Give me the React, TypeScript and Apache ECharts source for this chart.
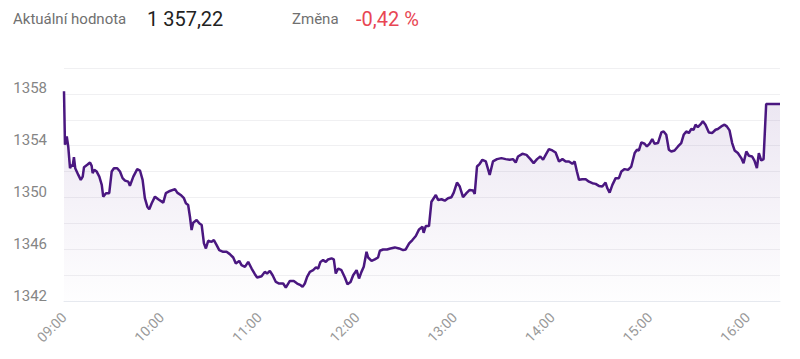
import React, { useEffect, useRef } from "react";
import * as echarts from "echarts";

// minutes after 09:00
const minutes = [
  0, 0.6, 1.7, 2.6, 3.7, 4.7, 5.3, 6.1, 6.9, 8.8, 10.3, 11.5, 12.3, 14.3, 16.0, 17.0, 17.6, 18.6, 20.1, 21.7,
  23.2, 24.1, 25.8, 27.8, 29.3, 30.7, 32.7, 34.4, 36.0, 37.5, 39.5, 40.5, 42.6, 45.0, 46.7, 48.3, 49.7, 51.2,
  52.4, 53.9, 55.9, 57.9, 61.0, 62.6, 65.1, 68.2, 69.6, 71.7, 73.7, 74.9, 76.3, 77.4, 78.4, 79.4, 81.5, 83.1,
  84.6, 86.0, 87.2, 88.6, 90.7, 92.1, 93.8, 95.4, 97.8, 99.9, 101.9, 104.0, 105.6, 107.7, 109.1, 111.2, 113.2,
  115.3, 117.3, 118.7, 121.4, 123.4, 124.8, 126.5, 128.2, 130.2, 132.2, 134.7, 136.3, 138.8, 141.2, 143.3,
  145.4, 146.6, 148.0, 149.4, 151.1, 153.1, 154.8, 156.2, 157.6, 159.2, 160.9, 162.3, 164.4, 165.8, 167.0,
  168.5, 170.5, 172.6, 174.2, 176.1, 177.7, 179.8, 181.3, 182.8, 184.2, 185.9, 186.9, 189.0, 191.0, 193.0,
  194.1, 196.1, 198.5, 200.6, 203.3, 205.9, 208.4, 210.0, 212.1, 214.1, 216.2, 218.2, 220.3, 221.0, 222.3,
  224.3, 225.8, 227.2, 228.5, 229.9, 232.0, 234.0, 236.0, 238.1, 239.5, 241.5, 243.2, 245.2, 247.3, 249.3,
  251.4, 252.4, 253.8, 255.5, 257.1, 259.2, 261.6, 263.6, 266.1, 268.8, 271.4, 273.9, 275.9, 277.6, 279.0,
  281.7, 284.2, 286.6, 288.6, 290.7, 292.7, 294.4, 296.0, 298.0, 300.1, 302.1, 304.2, 306.3, 308.3, 310.3,
  312.4, 313.8, 315.2, 316.5, 318.5, 320.6, 322.6, 324.7, 326.7, 328.7, 330.8, 332.8, 333.9, 335.3, 337.0,
  339.0, 341.0, 342.5, 344.5, 346.6, 348.6, 350.7, 352.1, 353.3, 354.8, 356.8, 358.2, 359.9, 361.5, 362.9,
  365.0, 367.1, 368.5, 370.1, 371.7, 373.2, 375.2, 377.3, 379.3, 380.8, 382.4, 384.0, 385.5, 386.9, 388.1,
  389.5, 391.0, 392.6, 394.2, 396.3, 398.4, 400.4, 401.8, 403.9, 405.9, 407.3, 409.0, 410.6, 412.1, 414.1,
  416.2, 417.6, 419.3, 420.9, 422.9, 424.3, 425.8, 427.0, 428.5, 429.9, 431.5, 440,
];

const values = [
  1358.2, 1354.07, 1354.71, 1353.94, 1352.26, 1352.52, 1352.39, 1353.12, 1352.26, 1351.74, 1351.36, 1351.61,
  1352.34, 1352.52, 1352.7, 1352.44, 1351.88, 1352.13, 1352.0, 1351.61, 1350.97, 1350.06, 1350.33, 1350.33,
  1352.0, 1352.26, 1352.26, 1352.0, 1351.49, 1351.3, 1351.22, 1350.89, 1351.61, 1352.19, 1352.08, 1351.36,
  1349.94, 1349.29, 1349.09, 1349.55, 1350.06, 1349.86, 1349.6, 1350.33, 1350.5, 1350.64, 1350.37, 1350.19,
  1349.94, 1349.55, 1349.42, 1348.51, 1347.48, 1348.05, 1348.26, 1348.0, 1347.87, 1346.45, 1346.06, 1346.65,
  1346.57, 1346.71, 1346.32, 1345.93, 1345.8, 1345.8, 1345.62, 1345.36, 1344.9, 1345.1, 1344.77, 1344.64,
  1345.02, 1344.51, 1344.07, 1343.81, 1343.91, 1344.25, 1344.12, 1344.33, 1343.99, 1343.47, 1343.35, 1343.35,
  1343.04, 1343.55, 1343.55, 1343.35, 1343.22, 1343.09, 1343.35, 1343.86, 1344.25, 1344.38, 1344.59, 1344.51,
  1345.02, 1345.16, 1345.02, 1345.21, 1345.29, 1345.21, 1344.12, 1344.51, 1344.38, 1343.81, 1343.29, 1343.47,
  1343.99, 1344.38, 1343.74, 1344.25, 1344.64, 1345.8, 1345.36, 1345.1, 1345.21, 1345.36, 1345.88, 1345.98,
  1345.98, 1346.06, 1346.14, 1346.06, 1345.93, 1345.98, 1346.45, 1346.71, 1347.02, 1347.53, 1347.74, 1347.27,
  1347.79, 1347.79, 1349.67, 1349.94, 1350.19, 1349.81, 1349.86, 1349.75, 1349.94, 1350.02, 1350.37, 1351.15,
  1350.84, 1350.02, 1350.33, 1350.58, 1350.53, 1350.27, 1352.39, 1352.6, 1352.91, 1352.78, 1351.74, 1352.78,
  1352.96, 1353.04, 1352.96, 1352.91, 1352.96, 1352.7, 1353.16, 1353.37, 1353.29, 1352.96, 1352.65, 1352.96,
  1353.16, 1352.91, 1353.29, 1353.74, 1353.63, 1353.47, 1352.78, 1352.96, 1352.78, 1352.78, 1352.6, 1352.78,
  1352.0, 1351.36, 1351.41, 1351.41, 1351.22, 1351.1, 1351.05, 1350.89, 1350.84, 1351.15, 1350.71, 1350.37,
  1350.97, 1351.49, 1351.49, 1352.0, 1352.19, 1352.13, 1352.39, 1353.43, 1353.68, 1353.63, 1354.25, 1354.15,
  1353.94, 1354.15, 1354.51, 1354.15, 1354.2, 1355.02, 1355.1, 1354.84, 1353.68, 1353.55, 1353.63, 1353.94,
  1354.2, 1354.84, 1355.1, 1354.98, 1355.29, 1355.23, 1355.62, 1355.44, 1355.62, 1355.88, 1355.62, 1355.02,
  1354.98, 1355.23, 1355.29, 1355.49, 1355.62, 1355.49, 1355.18, 1354.2, 1353.63, 1353.43, 1353.04, 1352.65,
  1353.55, 1353.22, 1353.16, 1352.85, 1352.26, 1353.43, 1352.85, 1352.96, 1357.22, 1357.22,
];

const yLabelTicks = [1342, 1346, 1350, 1354, 1358];
const hourLabels = ["09:00", "10:00", "11:00", "12:00", "13:00", "14:00", "15:00", "16:00"];

const currentLabel = "Aktuální hodnota";
const currentValue = "1 357,22";
const changeLabel = "Změna";
const changeValue = "-0,42 %";

export default function App() {
  const ref = useRef<HTMLDivElement>(null);

  useEffect(() => {
    document.body.style.margin = "0";
    const chart = echarts.init(ref.current!, null, { renderer: "svg" });
    const font = "Roboto, 'Noto Sans', sans-serif";
    chart.setOption({
      animation: false,
      grid: { left: 64, right: 20, top: 68, bottom: 58 },
      graphic: [
        {
          type: "text",
          x: 13,
          y: 19,
          style: { text: currentLabel, fill: "#707070", fontSize: 15, fontFamily: font, verticalAlign: "middle" },
        },
        {
          type: "text",
          x: 147,
          y: 19,
          style: { text: currentValue, fill: "#222222", fontSize: 20, fontFamily: font, verticalAlign: "middle" },
        },
        {
          type: "text",
          x: 292,
          y: 19,
          style: { text: changeLabel, fill: "#707070", fontSize: 15, fontFamily: font, verticalAlign: "middle" },
        },
        {
          type: "text",
          x: 356,
          y: 19,
          style: { text: changeValue, fill: "#e84653", fontSize: 20, fontFamily: font, verticalAlign: "middle" },
        },
      ],
      xAxis: {
        type: "value",
        min: 0,
        max: 440,
        interval: 60,
        axisLine: { show: true, lineStyle: { color: "#e6e9ef", width: 1 } },
        axisTick: { show: false },
        splitLine: { show: false },
        axisLabel: {
          rotate: 45,
          margin: 14,
          color: "#999999",
          fontSize: 14,
          fontFamily: font,
          formatter: (v: number) => (v % 60 === 0 ? hourLabels[v / 60] ?? "" : ""),
        },
      },
      yAxis: {
        type: "value",
        min: 1342,
        max: 1360,
        interval: 2,
        axisLine: { show: false },
        axisTick: { show: false },
        splitLine: { show: true, lineStyle: { color: "#f0f0f2", width: 1 } },
        axisLabel: {
          color: "#858585",
          fontSize: 15,
          fontFamily: font,
          margin: 17,
          verticalAlign: "bottom",
          padding: [0, 0, -2, 0],
          formatter: (v: number) => (yLabelTicks.includes(v) ? String(v) : ""),
        },
      },
      series: [
        {
          type: "line",
          data: minutes.map((m, i) => [m, values[i]]),
          showSymbol: false,
          symbol: "none",
          lineStyle: { color: "#4a1780", width: 2.5 },
          areaStyle: {
            color: new echarts.graphic.LinearGradient(0, 0, 0, 1, [
              { offset: 0, color: "rgba(95, 50, 145, 0.18)" },
              { offset: 1, color: "rgba(95, 50, 145, 0.01)" },
            ]),
          },
        },
      ],
    });
    return () => chart.dispose();
  }, []);

  return <div ref={ref} style={{ width: 800, height: 359 }} />;
}
